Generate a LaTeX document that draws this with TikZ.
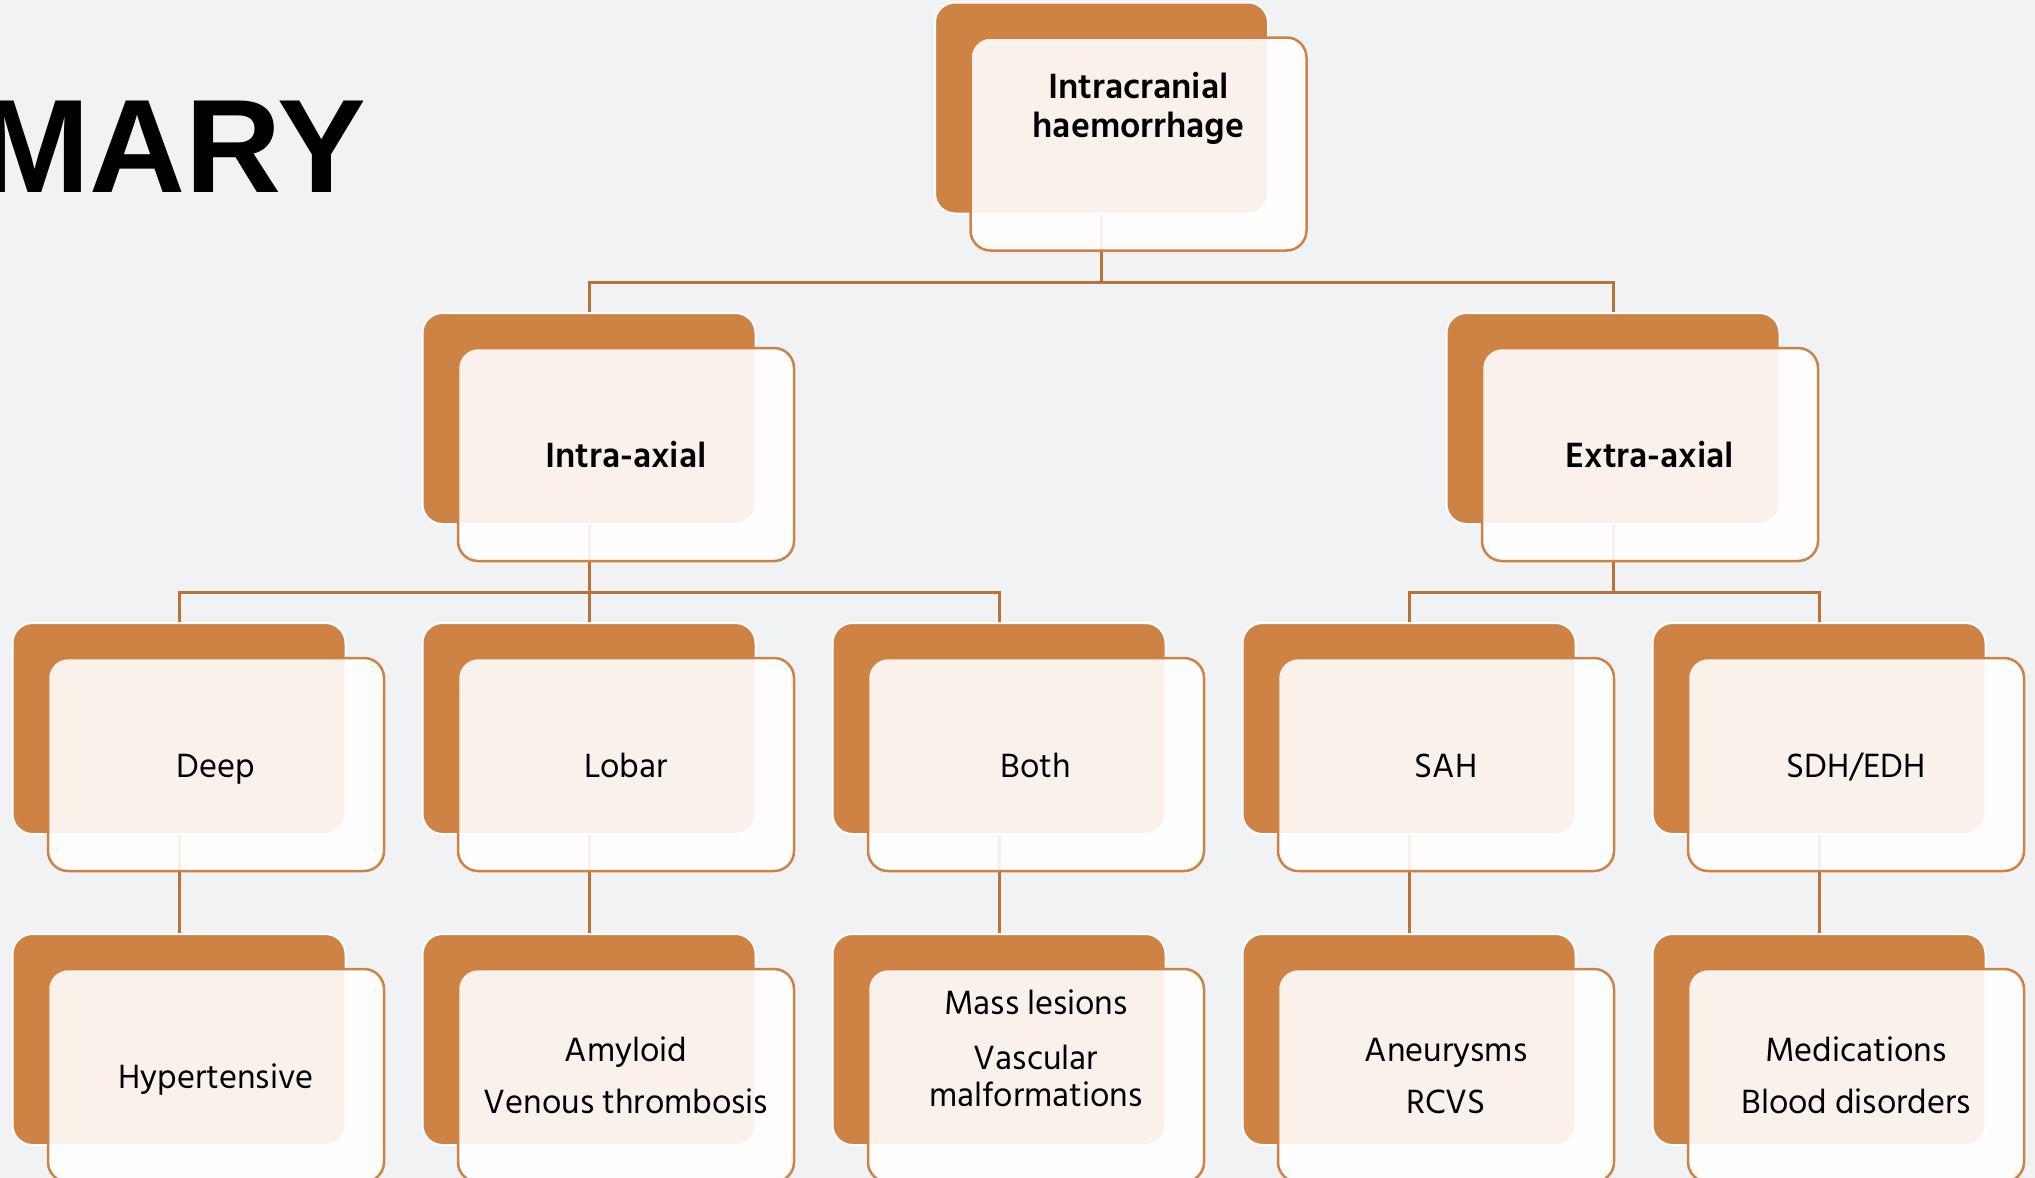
\documentclass[tikz,border=0pt]{standalone}
\usepackage{fontspec}
\setmainfont{Hind Siliguri}
\newfontfamily\headfont{Liberation Sans}
\definecolor{pagebg}{RGB}{241,242,244}
\definecolor{copper}{RGB}{206,131,69}
\definecolor{wirecol}{RGB}{186,114,56}
\tikzset{
  backcard/.style={rectangle, rounded corners=20pt, fill=copper, draw=white,
    line width=2pt, minimum width=333pt, minimum height=211pt, inner sep=0pt},
  frontcard/.style={rectangle, rounded corners=20pt, fill=white, fill opacity=0.89,
    text opacity=1, draw=copper, line width=2.5pt, minimum width=336pt,
    minimum height=213pt, inner sep=0pt, align=center,
    font=\fontsize{34.5}{37}\selectfont},
  oneline/.style={text height=25pt, text depth=0pt},
  headcard/.style={frontcard, oneline, font=\bfseries\fontsize{36}{39}\selectfont},
  cardtext/.style={align=center, inner sep=0pt, font=\fontsize{34.5}{37}\selectfont},
  wire/.style={draw=wirecol, line width=3pt}
}
\begin{document}
\begin{tikzpicture}[x=1pt,y=-1pt]
  \useasboundingbox (0,0) rectangle (2035,1178);
  \clip (0,0) rectangle (2035,1178);
  \fill[pagebg] (0,0) rectangle (2035,1178);

  % heading, runs off the left edge
  \node[anchor=base east, inner sep=0pt,
        font=\headfont\bfseries\fontsize{133}{133}\selectfont] (heading) at (366,192) {MARY};

  % back cards
  \node[backcard] (ich-b) at (1101.5,108) {};
  \node[backcard] (intra-b) at (589,418.5) {};
  \node[backcard] (extra-b) at (1613,418.5) {};
  \node[backcard] (deep-b) at (179,728.5) {};
  \node[backcard] (lobar-b) at (589,728.5) {};
  \node[backcard] (both-b) at (999,728.5) {};
  \node[backcard] (sah-b) at (1409,728.5) {};
  \node[backcard] (sdh-b) at (1819,728.5) {};
  \node[backcard] (hyp-b) at (179,1039.5) {};
  \node[backcard] (amy-b) at (589,1039.5) {};
  \node[backcard] (mass-b) at (999,1039.5) {};
  \node[backcard] (aneu-b) at (1409,1039.5) {};
  \node[backcard] (med-b) at (1819,1039.5) {};

  % connectors
  \coordinate (bar-top) at (0,282);
  \coordinate (bar-mid) at (0,592);
  \draw[wire] (ich-b.south) -- (ich-b.south |- bar-top) -| (intra-b.north);
  \draw[wire] (ich-b.south) -- (ich-b.south |- bar-top) -| (extra-b.north);
  \draw[wire] (intra-b.south) -- (intra-b.south |- bar-mid) -| (deep-b.north);
  \draw[wire] (intra-b.south) -- (lobar-b.north);
  \draw[wire] (intra-b.south) -- (intra-b.south |- bar-mid) -| (both-b.north);
  \draw[wire] (extra-b.south) -- (extra-b.south |- bar-mid) -| (sah-b.north);
  \draw[wire] (extra-b.south) -- (extra-b.south |- bar-mid) -| (sdh-b.north);
  \draw[wire] (deep-b.south) -- (hyp-b.north);
  \draw[wire] (lobar-b.south) -- (amy-b.north);
  \draw[wire] (both-b.south) -- (mass-b.north);
  \draw[wire] (sah-b.south) -- (aneu-b.north);
  \draw[wire] (sdh-b.south) -- (med-b.north);

  % front cards
  \node[frontcard] (ich) at ([shift={(37,36)}]ich-b.center) {};
  \node[headcard] (intra) at ([shift={(37,36)}]intra-b.center) {Intra-axial};
  \node[headcard] (extra) at ([shift={(37,36)}]extra-b.center) {Extra-axial};
  \node[frontcard, oneline] (deep) at ([shift={(37,36)}]deep-b.center) {Deep};
  \node[frontcard, oneline] (lobar) at ([shift={(37,36)}]lobar-b.center) {Lobar};
  \node[frontcard, oneline] (both) at ([shift={(37,36)}]both-b.center) {Both};
  \node[frontcard, oneline] (sah) at ([shift={(37,36)}]sah-b.center) {SAH};
  \node[frontcard, oneline] (sdh) at ([shift={(37,36)}]sdh-b.center) {SDH/EDH};
  \node[frontcard, oneline] (hyp) at ([shift={(37,36)}]hyp-b.center) {Hypertensive};
  \node[frontcard] (amy) at ([shift={(37,36)}]amy-b.center) {Amyloid\\[15pt]Venous thrombosis};
  \node[frontcard] (mass) at ([shift={(37,36)}]mass-b.center) {};
  \node[frontcard] (aneu) at ([shift={(37,36)}]aneu-b.center) {Aneurysms\\[15pt]RCVS};
  \node[frontcard] (med) at ([shift={(37,36)}]med-b.center) {Medications\\[15pt]Blood disorders};

  % labels that sit high in their cards
  \node[cardtext, font=\bfseries\fontsize{36}{39}\selectfont, anchor=north] (ich-text)
    at ([yshift=-36]ich.north) {Intracranial\\haemorrhage};
  \node[cardtext, anchor=north] (mass-text)
    at ([yshift=-22]mass.north) {Mass lesions\\[18pt]Vascular\\malformations};
\end{tikzpicture}
\end{document}
